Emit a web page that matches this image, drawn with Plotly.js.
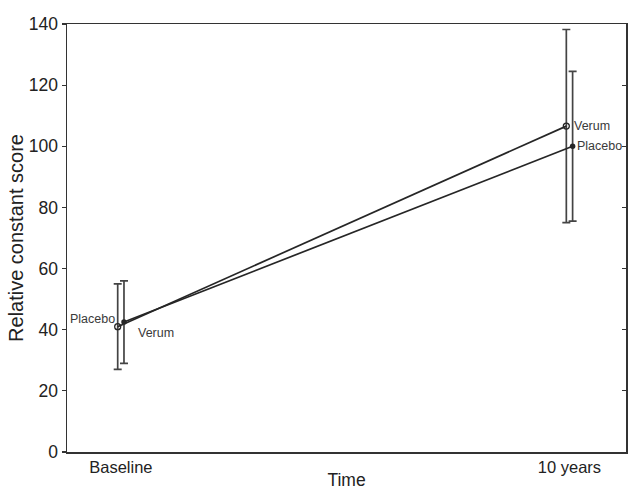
<!DOCTYPE html>
<html><head><meta charset="utf-8">
<script src="https://cdn.plot.ly/plotly-3.0.1.min.js"></script>
<style>html,body{margin:0;padding:0;background:#fff;}#chart{width:629px;height:490px;}</style>
</head><body><div id="chart"></div>
<script>
const categories = ["Baseline", "10 years"];
const verumMean = [41, 106.6];
const verumSD = [14, 31.6];
const placeboMean = [42.5, 100];
const placeboSD = [13.5, 24.5];
const seriesNames = ["Verum", "Placebo"];

const idx = categories.map((c, i) => i);
const off = 0.007;
const ink = '#262626';

const verum = {
  x: idx.map(i => i - off), y: verumMean, name: seriesNames[0], type: 'scatter', mode: 'lines+markers',
  line: {color: ink, width: 1.7},
  marker: {symbol: 'circle-open', size: 6, color: ink, line: {width: 1.3, color: ink}},
  error_y: {type: 'data', array: verumSD, visible: true, color: '#444', thickness: 1.7, width: 4},
  cliponaxis: false, showlegend: false
};
const placebo = {
  x: idx.map(i => i + off), y: placeboMean, name: seriesNames[1], type: 'scatter', mode: 'lines+markers',
  line: {color: ink, width: 1.7},
  marker: {symbol: 'circle', size: 5.5, color: ink},
  error_y: {type: 'data', array: placeboSD, visible: true, color: '#444', thickness: 1.7, width: 4},
  cliponaxis: false, showlegend: false
};
const dummy = {x: [0], y: [0], yaxis: 'y2', mode: 'markers', marker: {opacity: 0}, showlegend: false, hoverinfo: 'skip'};

const labFont = {family: 'Liberation Sans, Arial, sans-serif', size: 12.5, color: '#3a3a3a'};
const annotations = [
  {x: verum.x[0], y: verumMean[0], text: seriesNames[1], xanchor: 'right', yanchor: 'middle', xshift: -1, yshift: 8, showarrow: false, font: labFont},
  {x: placebo.x[0], y: placeboMean[0], text: seriesNames[0], xanchor: 'left', yanchor: 'middle', xshift: 12, yshift: -11, showarrow: false, font: labFont},
  {x: verum.x[1], y: verumMean[1], text: seriesNames[0], xanchor: 'left', yanchor: 'middle', xshift: 6, yshift: 0, showarrow: false, font: labFont},
  {x: placebo.x[1], y: placeboMean[1], text: seriesNames[1], xanchor: 'left', yanchor: 'middle', xshift: 2, yshift: 0, showarrow: false, font: labFont}
];

const fam = 'Liberation Sans, Arial, sans-serif';
const layout = {
  width: 629, height: 490,
  margin: {l: 67, r: 3, t: 24, b: 38},
  paper_bgcolor: '#fff', plot_bgcolor: '#fff',
  font: {family: fam, size: 16, color: '#222'},
  showlegend: false,
  xaxis: {
    range: [-0.12, 1.126], tickvals: idx, ticktext: categories, ticks: '',
    showgrid: false, zeroline: false, showline: true, linecolor: '#333', linewidth: 1.5, mirror: true,
    tickfont: {family: fam, size: 16.5, color: '#222'},
    title: {text: 'Time', font: {family: fam, size: 17.5, color: '#222'}, standoff: 1}
  },
  yaxis: {
    range: [0, 140], dtick: 20, ticks: 'outside', ticklen: 4, tickwidth: 1.2, tickcolor: '#333',
    showgrid: false, zeroline: false, showline: true, linecolor: '#333', linewidth: 1.5,
    tickfont: {family: fam, size: 17.5, color: '#222'},
    title: {text: 'Relative constant score', font: {family: fam, size: 20, color: '#222'}, standoff: 0}
  },
  yaxis2: {
    range: [0, 140], dtick: 20, overlaying: 'y', side: 'right', ticks: 'inside', ticklen: 4, tickwidth: 1.2, tickcolor: '#333',
    showticklabels: false, showgrid: false, zeroline: false, showline: true, linecolor: '#333', linewidth: 1.5
  },
  annotations: annotations
};
Plotly.newPlot('chart', [dummy, verum, placebo], layout, {displayModeBar: false, staticPlot: true});
</script></body></html>
